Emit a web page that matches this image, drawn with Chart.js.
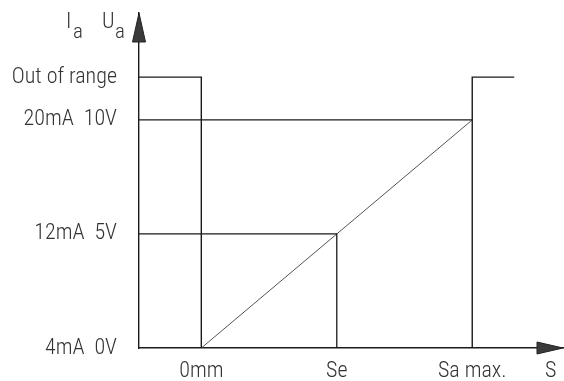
<!DOCTYPE html>
<html><head><meta charset="utf-8">
<script src="https://cdn.jsdelivr.net/npm/chart.js@4.4.1/dist/chart.umd.min.js"></script>
<style>html,body{margin:0;padding:0;background:#fff}#wrap{width:564px;height:381px}</style>
</head><body><div id="wrap"><canvas id="c" width="564" height="381"></canvas></div>
<script>
// Data (x in relative travel units, y in mA)
const X_LABELS = ["0mm", "Se", "Sa max.", "S"];
const X_TICKS = [0, 5, 10, 12.9];
const Y_LABELS = ["4mA  0V", "12mA  5V", "20mA  10V", "Out of range"];
const Y_TICKS = [4, 12, 20, 23];
const AXIS_X_START = -2.3;
const AXIS_X_END = 13.35;
const AXIS_Y_END = 27.5;
const OUT_RIGHT_END = 11.55;

const outputCurve = [
  {x: AXIS_X_START, y: 23}, {x: 0, y: 23}, {x: 0, y: 4}
];
const diagonal = [{x: 0, y: 4}, {x: 10, y: 20}];
const line20 = [{x: AXIS_X_START, y: 20}, {x: 10, y: 20}];
const line12 = [{x: AXIS_X_START, y: 12}, {x: 5, y: 12}, {x: 5, y: 4}];
const saMax = [{x: 10, y: 4}, {x: 10, y: 23}, {x: OUT_RIGHT_END, y: 23}];

const FONT = "'Roboto Condensed', 'DejaVu Sans Condensed', sans-serif";
const INK = '#1a1a1a';
const TXT = '#333';

const ds = (data, color, w) => ({data, borderColor: color, borderWidth: w, pointRadius: 0, fill: false, tension: 0, showLine: true});

const decor = {
  id: 'decor',
  afterDraw(chart) {
    const {ctx, chartArea: a} = chart;
    ctx.save();
    ctx.fillStyle = '#3a3a3a';
    ctx.strokeStyle = '#222';
    ctx.lineWidth = 1;
    // y arrow
    ctx.beginPath();
    ctx.moveTo(a.left, a.top);
    ctx.lineTo(a.left - 6.5, a.top + 29);
    ctx.lineTo(a.left + 6.5, a.top + 29);
    ctx.closePath(); ctx.fill(); ctx.stroke();
    // x arrow
    ctx.beginPath();
    ctx.moveTo(a.right, a.bottom);
    ctx.lineTo(a.right - 26, a.bottom - 6);
    ctx.lineTo(a.right - 26, a.bottom + 6);
    ctx.closePath(); ctx.fill(); ctx.stroke();
    // axis titles I_a U_a
    ctx.fillStyle = TXT;
    ctx.textBaseline = 'alphabetic';
    ctx.textAlign = 'left';
    ctx.font = '300 22px ' + FONT;
    ctx.fillText('I', a.left - 73, a.top + 15);
    ctx.fillText('U', a.left - 37, a.top + 15);
    ctx.font = '300 21px ' + FONT;
    ctx.fillText('a', a.left - 66, a.top + 25);
    ctx.fillText('a', a.left - 24, a.top + 25);
    ctx.restore();
  }
};

new Chart(document.getElementById('c'), {
  type: 'scatter',
  data: {
    datasets: [
      ds(outputCurve, INK, 1.4),
      ds(line20, INK, 1.4),
      ds(line12, INK, 1.3),
      ds(saMax, INK, 1.4),
      ds(diagonal, '#555', 1)
    ]
  },
  options: {
    responsive: false,
    animation: false,
    devicePixelRatio: 1,
    layout: {padding: {top: 13, right: 1, left: 0, bottom: 0}},
    plugins: {legend: {display: false}, tooltip: {enabled: false}},
    scales: {
      x: {
        type: 'linear', min: AXIS_X_START, max: AXIS_X_END,
        afterFit: s => { s.height = 33; s.paddingLeft = 0; s.paddingRight = 0; },
        afterBuildTicks: s => { s.ticks = X_TICKS.map(v => ({value: v})); },
        grid: {display: false, drawTicks: false},
        border: {display: true, color: INK, width: 1.4},
        ticks: {
          autoSkip: false, maxRotation: 0, padding: 10, color: TXT,
          font: {family: FONT, size: 22, weight: '300'},
          callback: (v) => X_LABELS[X_TICKS.indexOf(v)] ?? ''
        }
      },
      y: {
        type: 'linear', min: 4, max: AXIS_Y_END,
        afterFit: s => { s.width = 139; s.paddingTop = 0; s.paddingBottom = 0; },
        afterBuildTicks: s => { s.ticks = Y_TICKS.map(v => ({value: v})); },
        grid: {display: false, drawTicks: false},
        border: {display: true, color: INK, width: 1.4},
        ticks: {
          autoSkip: false, padding: 22, color: TXT,
          font: {family: FONT, size: 22, weight: '300'},
          callback: (v) => Y_LABELS[Y_TICKS.indexOf(v)] ?? ''
        }
      }
    }
  },
  plugins: [decor]
});
</script></body></html>
